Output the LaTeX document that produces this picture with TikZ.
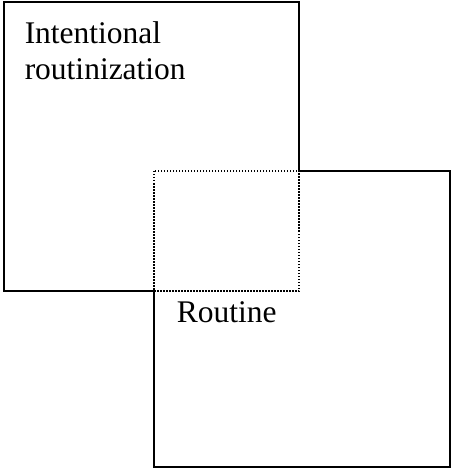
\documentclass[tikz,border=0pt]{standalone}
\usepackage{fontspec}
\setmainfont{Liberation Serif}
\begin{document}
\begin{tikzpicture}[x=1pt,y=-1pt,line width=1.5pt,
  lbl/.style={anchor=base west,inner sep=0pt,font=\fontsize{31.5}{36}\selectfont}]
\useasboundingbox (0,0) rectangle (452,470);
\draw (154,291) -- (4,291) -- (4,2) -- (299,2) -- (299,171);
\draw (299,171) -- (450,171) -- (450,467) -- (154,467) -- (154,291);
\draw [dash pattern=on 1.5pt off 1.5pt] (154,171) rectangle (299,291);
\node [lbl] (intent) at (24,44) {Intentional};
\node [lbl] (routinization) at (24,80) {routinization};
\node [lbl] (routine) at (176,322) {Routine};

\end{tikzpicture}
\end{document}
